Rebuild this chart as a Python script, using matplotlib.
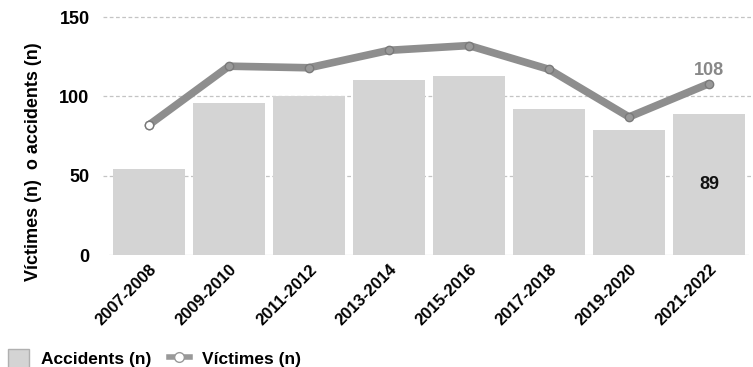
import matplotlib
matplotlib.use("Agg")
import matplotlib.pyplot as plt
from matplotlib.patches import Patch
from matplotlib.lines import Line2D

plt.rcParams['font.family'] = ['Liberation Sans', 'DejaVu Sans']

periods = ["2007-2008", "2009-2010", "2011-2012", "2013-2014",
           "2015-2016", "2017-2018", "2019-2020", "2021-2022"]
accidents = [54, 96, 100, 110, 113, 92, 79, 89]
victimes = [82, 119, 118, 129, 132, 117, 87, 108]
yticks = [0, 50, 100, 150]

fig = plt.figure(figsize=(7.53, 3.67), dpi=100)
ax = fig.add_axes([109/753, 1-255/367, 640/753, 238/367])

x = list(range(len(periods)))
ax.bar(x, accidents, width=0.91, color='#d4d4d4', zorder=2)
ax.plot(x, victimes, color='#8e8e8e', lw=5.5, zorder=3, solid_capstyle='round',
        solid_joinstyle='round',
        marker='o', ms=6, mfc='#999999', mec='#7a7a7a', mew=1)
ax.plot(x[0], victimes[0], marker='o', ms=6, mfc='white', mec='#7a7a7a', mew=1, zorder=4)

ax.text(x[-1], victimes[-1] + 3, str(victimes[-1]), ha='center', va='bottom',
        color='#888888', fontsize=13, fontweight='bold', zorder=5)
ax.text(x[-1], accidents[-1] / 2, str(accidents[-1]), ha='center', va='center',
        color='#111111', fontsize=13, fontweight='bold', zorder=5)

ax.set_xlim(-0.5, len(periods) - 0.5)
ax.set_ylim(0, 150)
ax.set_yticks(yticks)
ax.set_yticklabels([str(t) for t in yticks], fontsize=13, fontweight='bold')
for t in yticks[1:]:
    ax.axhline(t, xmin=-0.01, xmax=1.01, color='#c4c4c4', lw=0.9, ls=(0, (3, 2)),
               zorder=1, clip_on=False)
ax.axhline(0, color='#e4e4e4', lw=1, zorder=1)
ax.set_xticks(x)
ax.set_xticklabels(periods, rotation=45, ha='right', rotation_mode='anchor',
                   fontsize=12, fontweight='bold')
ax.tick_params(length=0)
ax.tick_params(axis='y', pad=14)
ax.tick_params(axis='x', pad=5)
for s in ax.spines.values():
    s.set_visible(False)
ax.set_ylabel("Víctimes (n)  o accidents (n)", fontsize=13, fontweight='bold')
ax.yaxis.set_label_coords(-0.105, 0.39)

handles = [Patch(facecolor='#d4d4d4', edgecolor='#b0b0b0'),
           Line2D([], [], color='#999999', lw=4, marker='o', ms=7, mfc='white', mec='#999999')]
fig.legend(handles, ["Accidents (n)", "Víctimes (n)"], loc='lower left',
           bbox_to_anchor=(-0.01, -0.045), ncol=2, frameon=False,
           prop={'weight': 'bold', 'size': 12.5}, handlelength=1.2, handleheight=1.3,
           columnspacing=1.0, handletextpad=0.7)

fig.savefig("out.png", dpi=100)
